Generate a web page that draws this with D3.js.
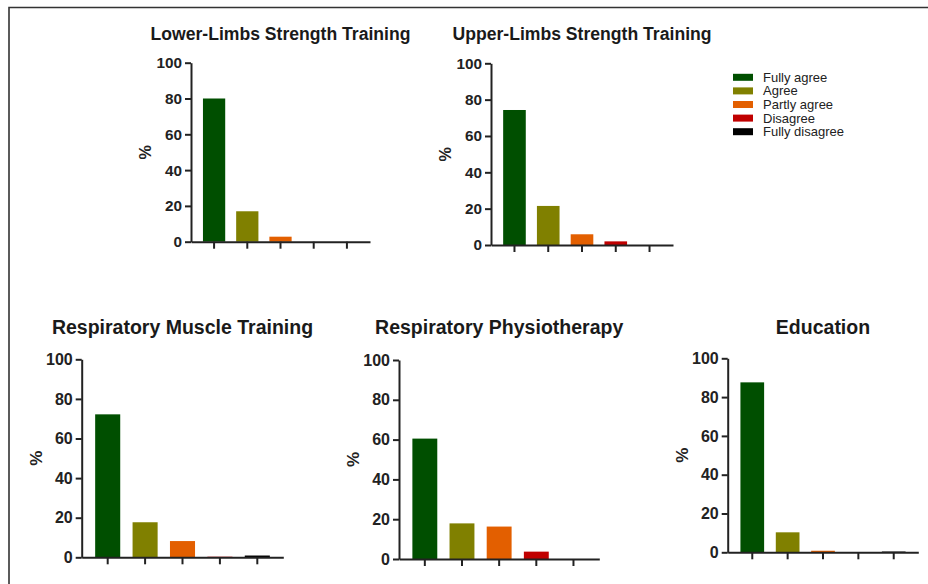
<!DOCTYPE html>
<html><head><meta charset="utf-8">
<script src="https://cdn.jsdelivr.net/npm/d3@7"></script>
<style>
html,body{margin:0;padding:0;background:#fff;}
svg{display:block;font-family:"Liberation Sans",Arial,sans-serif;}
</style></head>
<body>
<svg id="chart" width="928" height="584"></svg>
<script>
const categories = ["Fully agree","Agree","Partly agree","Disagree","Fully disagree"];
const colors = ["#004f00","#808000","#e35f00","#c00000","#000000"];
const yTicks = [0,20,40,60,80,100];
const titles = ["Lower-Limbs Strength Training","Upper-Limbs Strength Training","Respiratory Muscle Training","Respiratory Physiotherapy","Education"];
const lowerLimbs = [80, 17, 2.8, 0, 0];
const upperLimbs = [74.3, 21.5, 5.9, 2, 0];
const respMuscle = [72.2, 17.7, 8.2, 0.3, 0.9];
const respPhysio = [60.5, 17.9, 16.3, 3.7, 0];
const education = [87.6, 10.3, 0.8, 0, 0.4];
const seriesList = [lowerLimbs, upperLimbs, respMuscle, respPhysio, education];

// panel frames (layout): x0,x1 of x-axis, y top (100) and y zero
const frames = [
  {x0:191, x1:370, yt:62.7, yb:241.7, ty:39.5, fs:17.6, ts:15.3},
  {x0:491, x1:673, yt:63.3, yb:245, ty:39.5, fs:17.6, ts:15.3},
  {x0:81.7, x1:283.3, yt:359.3, yb:557.3, ty:334, fs:19.5, ts:16},
  {x0:399, x1:599.3, yt:360, yb:559, ty:334, fs:19.5, ts:16},
  {x0:727.7, x1:918.3, yt:358.3, yb:552.3, ty:334, fs:19.5, ts:16}
];

const svg = d3.select("#chart");

// outer frame
svg.append("path").attr("d","M9,584 L9,7.5 L928,7.5").attr("fill","none").attr("stroke","#333").attr("stroke-width",1.6);

seriesList.forEach((vals, i) => {
  const f = frames[i];
  const g = svg.append("g");
  const x = d3.scaleBand().domain(categories).range([f.x0, f.x1]).paddingInner(0.33).paddingOuter(0.36);
  const y = d3.scaleLinear().domain([0,100]).range([f.yb, f.yt]);

  g.selectAll("rect").data(vals).join("rect")
    .attr("x",(d,j)=>x(categories[j]))
    .attr("width",x.bandwidth())
    .attr("y",d=>y(d))
    .attr("height",d=>y(0)-y(d))
    .attr("fill",(d,j)=>colors[j]);

  const ya = g.append("g").attr("transform",`translate(${f.x0},0)`)
    .call(d3.axisLeft(y).tickValues(yTicks).tickSize(6).tickSizeOuter(0).tickPadding(3));
  ya.select(".domain").attr("stroke","#222").attr("stroke-width",2);
  ya.selectAll(".tick line").attr("stroke","#222").attr("stroke-width",2);
  ya.selectAll(".tick text").attr("fill","#222").style("font-size",f.ts+"px").style("font-weight","bold")
    .style("font-family","'Liberation Sans',Arial,sans-serif");

  const xa = g.append("g").attr("transform",`translate(0,${f.yb})`)
    .call(d3.axisBottom(x).tickSize(7).tickSizeOuter(0).tickFormat(""));
  xa.select(".domain").attr("stroke","#222").attr("stroke-width",2);
  xa.selectAll(".tick line").attr("stroke","#222").attr("stroke-width",2);

  g.append("text")
    .attr("transform",`translate(${f.x0-46},${(f.yt+f.yb)/2}) rotate(-90)`)
    .attr("text-anchor","middle").attr("dy","0.35em")
    .style("font-size",(f.ts+1)+"px").style("font-weight","bold").attr("fill","#222").text("%");

  g.append("text").attr("x",(f.x0+f.x1)/2).attr("y",f.ty)
    .attr("text-anchor","middle").style("font-size",f.fs+"px").style("font-weight","bold").attr("fill","#1a1a1a")
    .text(titles[i]);
});

// legend
const lg = svg.append("g").attr("transform","translate(733,77.3)");
categories.forEach((c,j)=>{
  const r = lg.append("g").attr("transform",`translate(0,${j*13.6})`);
  r.append("rect").attr("x",0).attr("y",-3.5).attr("width",20).attr("height",7).attr("fill",colors[j]);
  r.append("text").attr("x",30).attr("y",0).attr("dy","0.35em").style("font-size","13px").attr("fill","#222").text(c);
});
</script>
</body></html>
